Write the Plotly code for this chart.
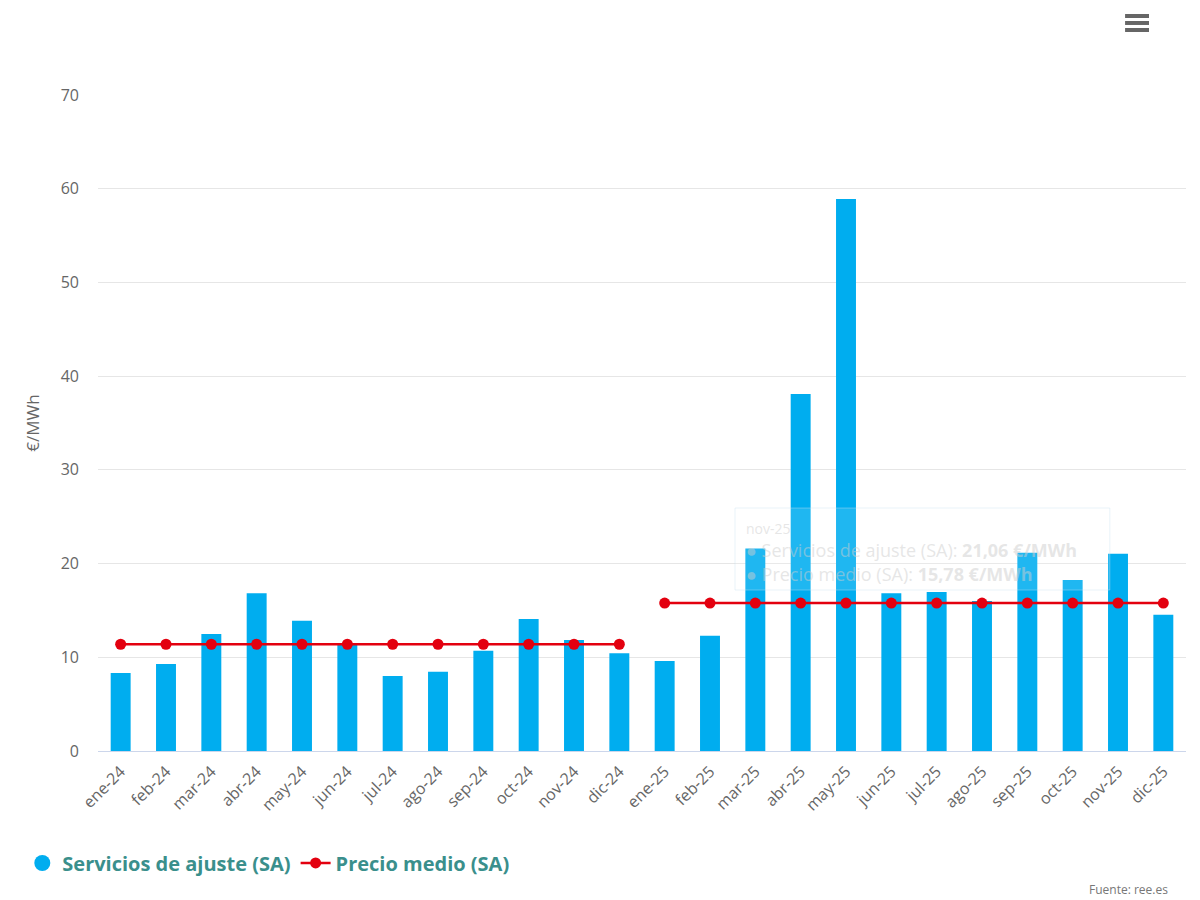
import plotly.graph_objects as go

# meses (eje x)
meses = ["ene-24", "feb-24", "mar-24", "abr-24", "may-24", "jun-24",
         "jul-24", "ago-24", "sep-24", "oct-24", "nov-24", "dic-24",
         "ene-25", "feb-25", "mar-25", "abr-25", "may-25", "jun-25",
         "jul-25", "ago-25", "sep-25", "oct-25", "nov-25", "dic-25"]

# Servicios de ajuste (SA), €/MWh
servicios_ajuste = [8.32, 9.28, 12.49, 16.83, 13.90, 11.50,
                    8.00, 8.46, 10.70, 14.09, 11.85, 10.42,
                    9.60, 12.30, 21.60, 38.10, 58.90, 16.83,
                    16.97, 16.00, 21.15, 18.25, 21.06, 14.55]

# Precio medio (SA) por año
meses_2024 = meses[:12]
meses_2025 = meses[12:]
precio_medio_2024 = [11.39, 11.39, 11.39, 11.39, 11.39, 11.39,
                     11.39, 11.39, 11.39, 11.39, 11.39, 11.39]
precio_medio_2025 = [15.78, 15.78, 15.78, 15.78, 15.78, 15.78,
                     15.78, 15.78, 15.78, 15.78, 15.78, 15.78]

BLUE = "#00adef"
RED = "#e3000f"
TEAL = "#3a8f8c"
GREY = "#666666"
FONT = "Open Sans"

fig = go.Figure()

fig.add_trace(go.Bar(
    x=meses, y=servicios_ajuste,
    name="Servicios de ajuste (SA)",
    marker=dict(color=BLUE, line=dict(width=0)),
    width=0.44,
    showlegend=False,
))

# legend entry with a round symbol, like the original
fig.add_trace(go.Scatter(
    x=[None], y=[None], mode="markers",
    name="Servicios de ajuste (SA)",
    marker=dict(color=BLUE, size=20, symbol="circle"),
))

fig.add_trace(go.Scatter(
    x=meses_2024, y=precio_medio_2024, mode="lines+markers",
    name="Precio medio (SA)", legendgroup="pm",
    line=dict(color=RED, width=2.5),
    marker=dict(color=RED, size=11),
))
fig.add_trace(go.Scatter(
    x=meses_2025, y=precio_medio_2025, mode="lines+markers",
    name="Precio medio (SA)", legendgroup="pm", showlegend=False,
    line=dict(color=RED, width=2.5),
    marker=dict(color=RED, size=11),
))

# faded tooltip left on the chart
fig.add_shape(type="rect", xref="paper", yref="paper",
              x0=0.5855, x1=0.930, y0=0.2454, y1=0.3704,
              line=dict(color="rgba(200,225,240,0.4)", width=1),
              fillcolor="rgba(255,255,255,0.12)", layer="above")
fig.add_annotation(
    xref="paper", yref="paper", x=0.594, y=0.356,
    xanchor="left", yanchor="top", align="left", showarrow=False,
    text=("<span style='font-size:14px'>nov-25</span><br>"
          "● Servicios de ajuste (SA): <b>21,06 €/MWh</b><br>"
          "● Precio medio (SA): <b>15,78 €/MWh</b>"),
    font=dict(family=FONT, size=18, color="rgba(205,205,205,0.5)"),
)

# menu icon (three bars)
for yy in [1.1204, 1.1098, 1.0991]:
    fig.add_shape(type="line", xref="paper", yref="paper",
                  x0=0.944, x1=0.966, y0=yy, y1=yy,
                  line=dict(color=GREY, width=4))

fig.add_annotation(xref="paper", yref="paper", x=0.985, y=-0.211,
                   xanchor="right", yanchor="middle", text="Fuente: ree.es",
                   showarrow=False, font=dict(family=FONT, size=12, color="#777777"))

fig.update_layout(
    width=1192, height=892,
    margin=dict(l=90, r=14, t=87, b=149),
    paper_bgcolor="white", plot_bgcolor="white",
    font=dict(family=FONT, color=GREY),
    bargap=0.56,
    legend=dict(
        orientation="h", xref="container", yref="container",
        x=0.012, y=0.0415, xanchor="left", yanchor="middle",
        font=dict(family=FONT, size=20, color=TEAL, weight="bold"),
        itemwidth=30, tracegroupgap=0,
    ),
    xaxis=dict(
        type="category", tickangle=-45, range=[-0.5, 23.5],
        tickfont=dict(size=16, color=GREY),
        showgrid=False, showline=True, linecolor="#ccd6eb", linewidth=1,
        ticks="", ticklabelstandoff=4,
    ),
    yaxis=dict(
        range=[0, 70], dtick=10,
        tickfont=dict(size=16, color=GREY),
        gridcolor="#e6e6e6", gridwidth=1,
        zeroline=False, ticklabelstandoff=18,
        title=dict(text="€/MWh", font=dict(size=17, color=GREY), standoff=16),
    ),
)

fig.write_html("out.html")
